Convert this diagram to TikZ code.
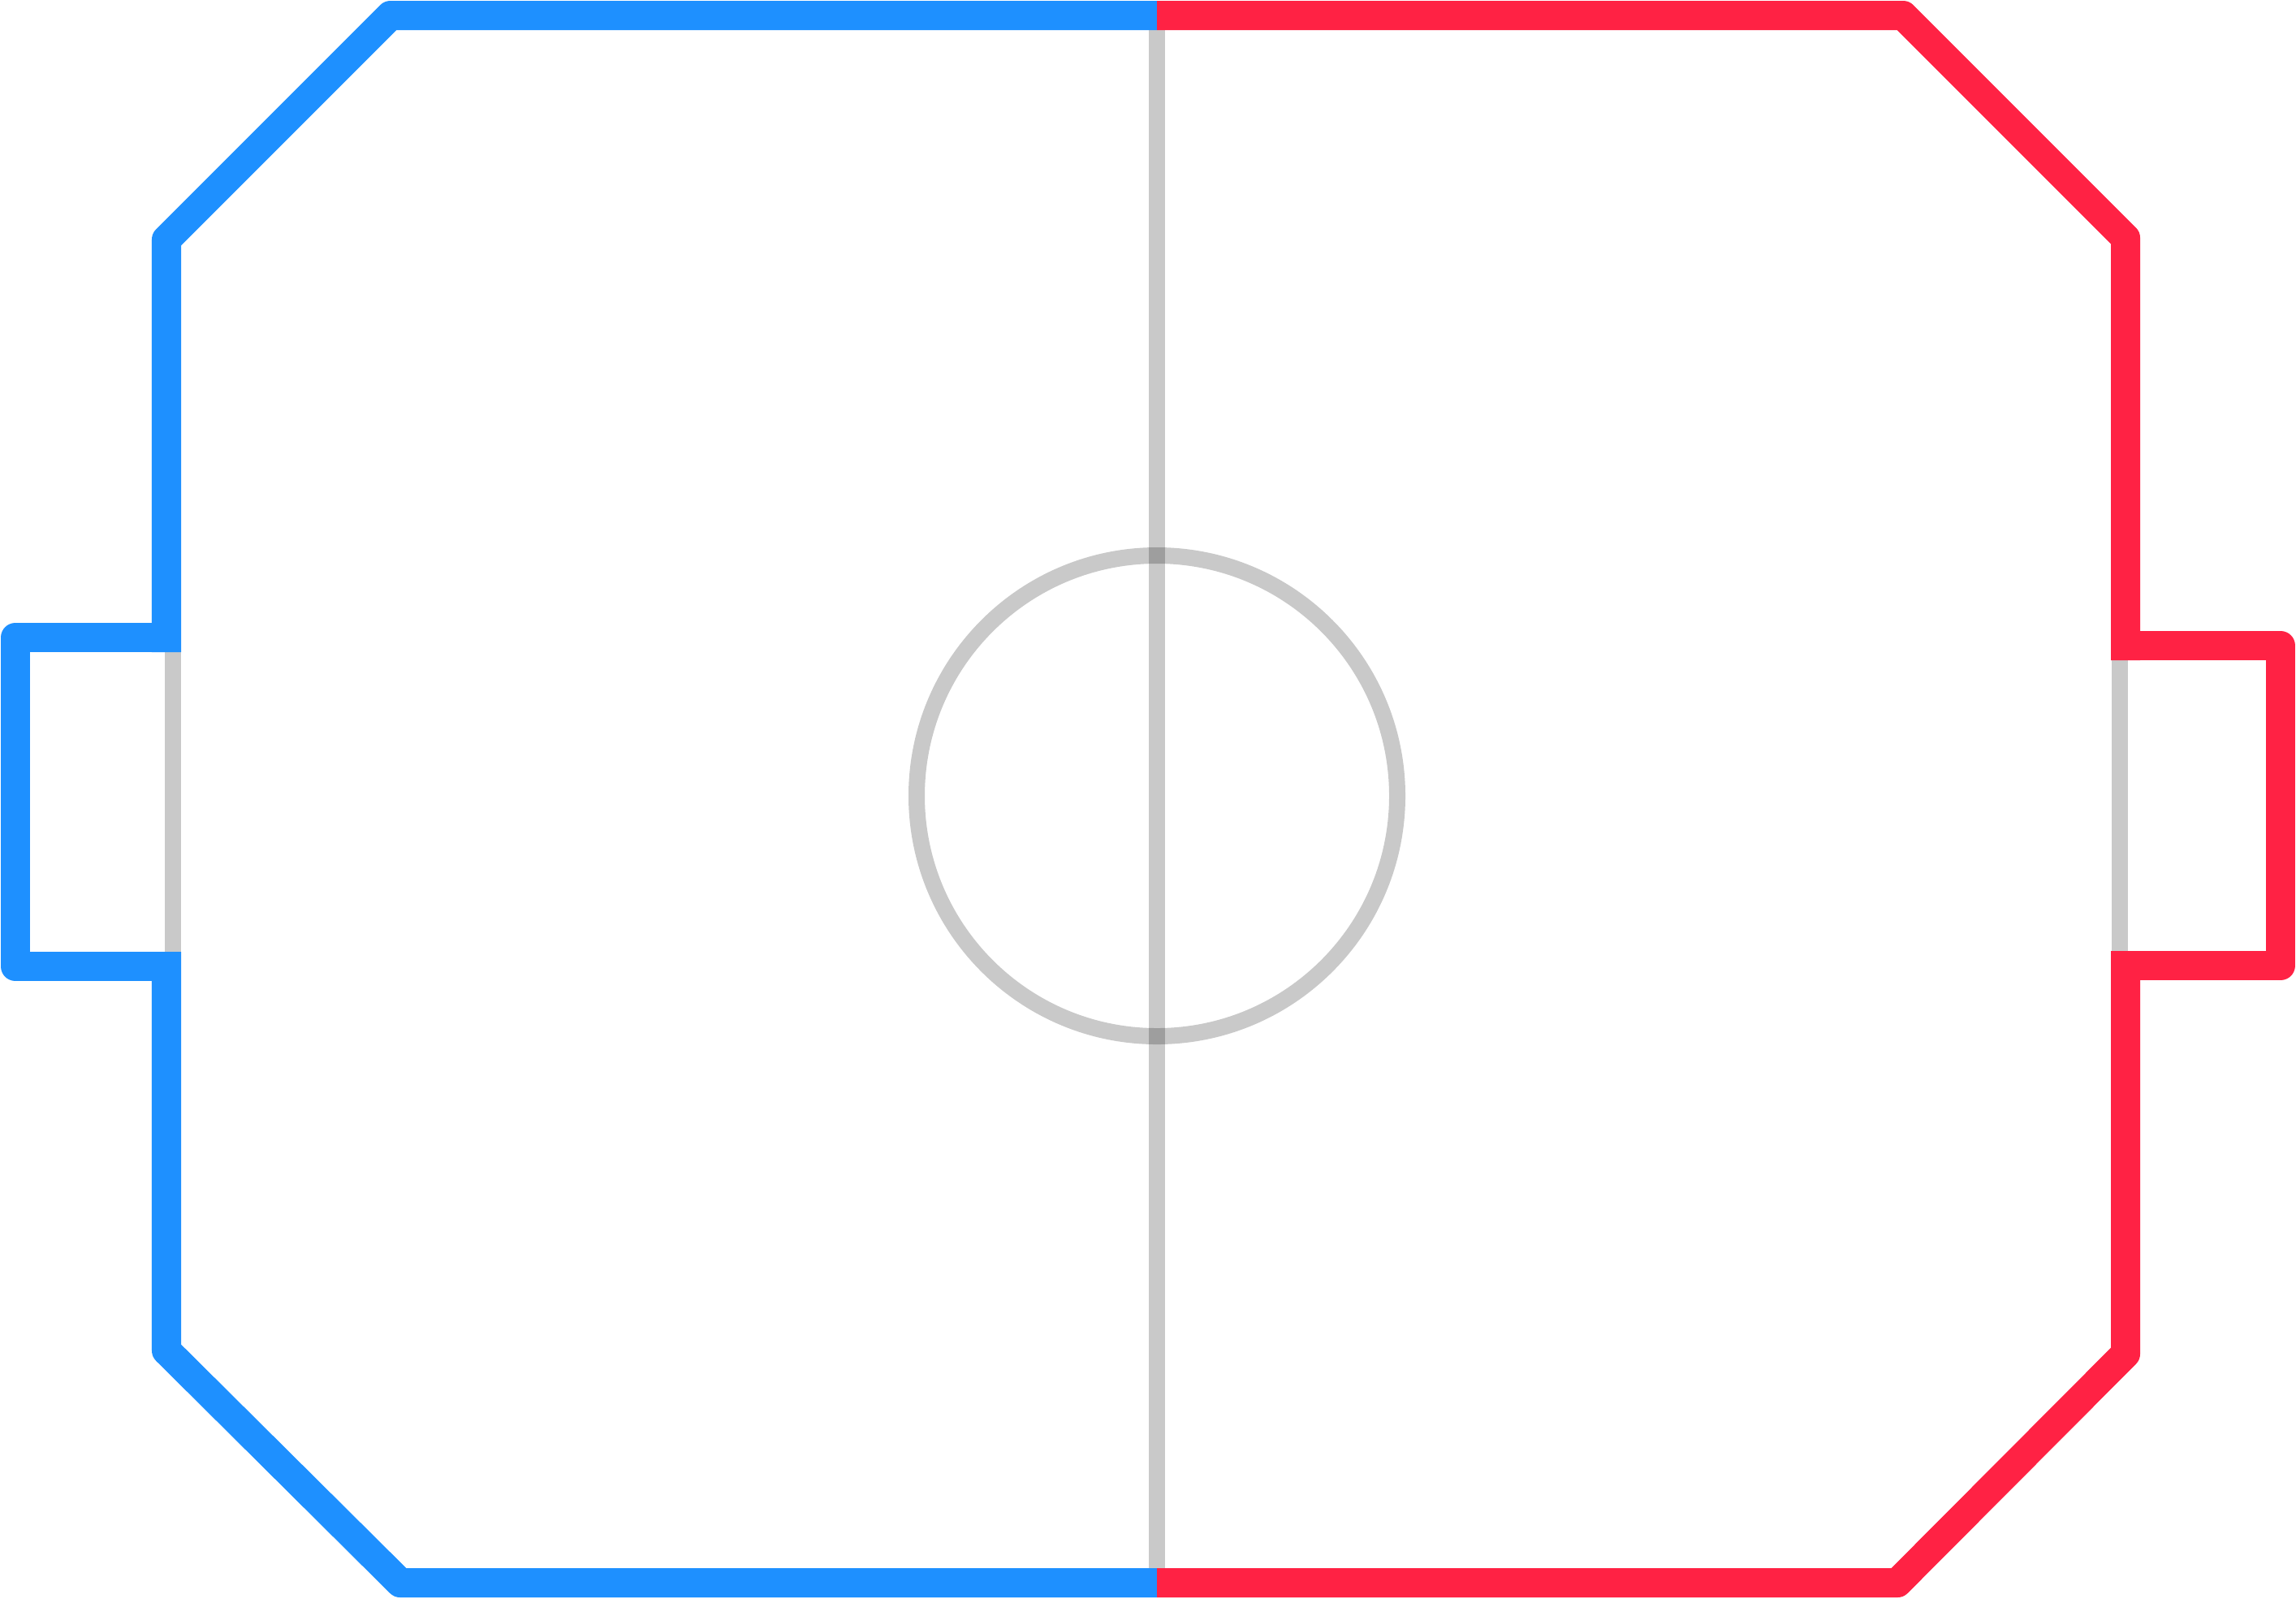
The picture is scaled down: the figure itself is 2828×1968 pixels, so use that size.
\documentclass[tikz,border=0pt]{standalone}
\usepackage{xcolor}
\definecolor{padleft}{HTML}{1E90FF}
\definecolor{padright}{HTML}{FF2244}

\begin{document}
\begin{tikzpicture}[x=0.01cm, y=-0.01cm,
		outline/.style={line width=0.36cm, line join=round},
		guide/.style={line width=0.2cm, draw=black, draw opacity=0.21}]
		\useasboundingbox (0,0) rectangle (2828,1968);

		% faint centre line and ring
		\draw[guide] (1425,19) -- (1425,1949);
		\draw[guide] (1425,980) circle (296);

		% faint lines closing the side tabs
		\foreach \x/\ya/\yb in {213/785/1190, 2611/795/1189} {
				\draw[guide] (\x,\ya) -- (\x,\yb);
			}

		% left half of the outline
		\draw[outline, padleft] (1425,19) -- (481,19) -- (205,295) -- (205,803);
		\draw[outline, padleft] (223,785) -- (19,785) -- (19,1190) -- (223,1190);
		\draw[outline, padleft] (205,1172) -- (205,1663) -- (493,1949) -- (1425,1949);

		% right half of the outline
		\draw[outline, padright] (1425,19) -- (2344,19) -- (2618,293) -- (2618,813);
		\draw[outline, padright] (2600,795) -- (2809,795) -- (2809,1189) -- (2600,1189);
		\draw[outline, padright] (2618,1171) -- (2618,1667) -- (2337,1949) -- (1425,1949);
	\end{tikzpicture}
\end{document}
